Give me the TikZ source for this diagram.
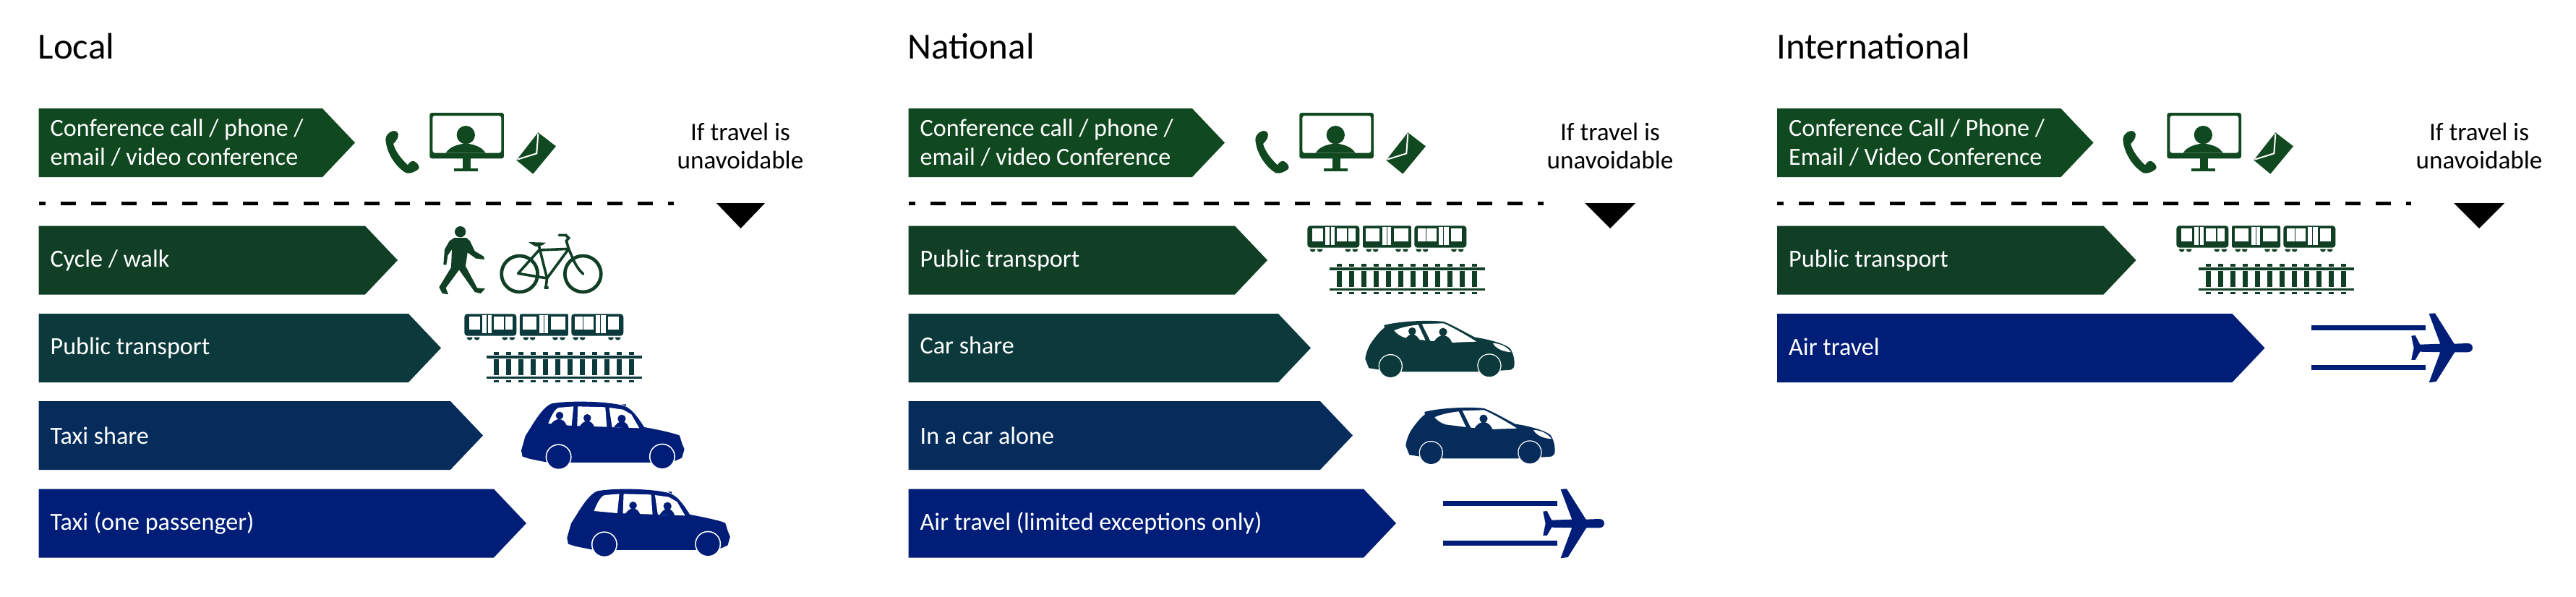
\documentclass[tikz,border=0pt]{standalone}
\usepackage{fontspec}
\setmainfont{Carlito}
\usetikzlibrary{shapes.symbols,positioning}

\definecolor{bandgreen}{HTML}{104820}
\definecolor{bandmoss}{HTML}{103F26}
\definecolor{bandteal}{HTML}{0C3A3C}
\definecolor{bandslate}{HTML}{052C5A}
\definecolor{bandnavy}{HTML}{001E78}

\tikzset{
	band/.style={signal, signal to=east, signal pointer angle=93, anchor=west, inner sep=0pt, outer sep=0pt, minimum height=0.95cm},
	bandtext/.style={text=white, inner sep=0pt, align=left, font=\fontsize{9.7}{11.24}\selectfont},
	heading/.style={anchor=base west, inner sep=0pt, font=\fontsize{14.5}{16}\selectfont},
	avoidtext/.style={inner sep=0pt, align=center, font=\fontsize{10}{11.1}\selectfont},
	dashline/.style={line width=0.45mm, dash pattern=on 2.1mm off 2.1mm, dash phase=1.2mm},
	fine/.style={x=0.03333mm, y=-0.03333mm},
	pics/contact/.style={code={
		\begin{scope}[fine]
		\fill (25,130) .. controls (25,105) and (55,85) .. (72,97) .. controls (85,108) and (75,130) .. (57,147) .. controls (65,175) and (85,205) .. (117,235) .. controls (125,222) and (135,215) .. (145,220) .. controls (160,228) and (170,245) .. (160,253) .. controls (145,265) and (125,272) .. (110,268) .. controls (70,245) and (30,190) .. (25,130) -- cycle;
		\fill[even odd rule, rounded corners=0.3mm] (208,18) rectangle (516,208) (220,30) rectangle (505,185);
		\fill (358,110) circle (38);
		\fill (275,185) .. controls (290,160) and (320,150) .. (358,145) .. controls (395,150) and (425,160) .. (440,185) -- cycle;
		\fill (345,205) rectangle (378,252);
		\fill (310,250) rectangle (408,260);
		\fill (658,100) -- (732,157) -- (637,272) -- (568,215) -- cycle;
		\draw[white, line width=0.2mm] (658,105) -- (652,187) -- (572,212);
		\end{scope}
	}},
	pics/walkbike/.style={code={
		\begin{scope}[fine]
		\fill (110,32) circle (23);
		\fill (85,57) -- (135,57) -- (150,70) -- (170,112) -- (208,135) -- (210,147) -- (175,143) -- (140,118) -- (132,175) -- (180,265) -- (213,268) -- (195,288) -- (170,282) -- (105,190) -- (50,265) -- (60,292) -- (35,288) -- (22,262) -- (72,180) -- (75,105) -- (58,130) -- (52,170) -- (40,168) -- (45,105) -- (65,70) -- cycle;
		\draw[line width=0.47mm] (356,207) circle (75) (619,207) circle (75);
		\draw[line width=0.36mm, line join=round] (435,85) -- (470,225) -- (350,205) -- (437,108) -- (560,103) -- (470,225) (470,225) -- (465,262) (458,264) -- (476,264);
		\draw[line width=0.36mm, line cap=round] (620,207) .. controls (590,180) and (580,150) .. (560,103) -- (550,70) -- (560,58) -- (548,46) -- (520,46);
		\fill (393,75) -- (465,77) .. controls (455,90) and (430,95) .. (420,92) -- cycle;
		\end{scope}
	}},
	pics/railset/.style={code={
		\begin{scope}[fine]
		\fill[rounded corners=0.4mm] (85,127) rectangle (301,218);
		\fill[rounded corners=0.2mm] (315,127) rectangle (516,218);
		\fill[rounded corners=0.4mm] (529,127) rectangle (745,218);
		\foreach \xa/\xb in {105/150, 207/250, 255/285, 328/385, 443/505, 543/575, 580/622, 680/725}
			\fill[white] (\xa,137) rectangle (\xb,193);
		\foreach \xa/\xb in {158/178, 183/198, 395/415, 418/433, 630/648, 652/672}
			\fill[white] (\xa,133) rectangle (\xb,207);
		\foreach \xw in {107, 137, 253, 283, 340, 368, 462, 492, 547, 575, 693, 722}
			\fill (\xw-12,224) arc[start angle=180, end angle=0, radius=12] -- cycle;
		\fill (177,301) rectangle (822,311);
		\fill (177,386) rectangle (822,396);
		\foreach \i in {0,...,11} {
			\fill (206+51.1*\i,316) rectangle (228+51.1*\i,380);
			\fill (206+51.1*\i,286) rectangle (228+51.1*\i,296);
			\fill (206+51.1*\i,402) rectangle (228+51.1*\i,412);
		}
		\end{scope}
	}},
	pics/taxi/.style={code={
		\begin{scope}[fine]
		\fill (483,280) -- (500,220) -- (525,180) .. controls (550,140) and (580,95) .. (610,85) .. controls (680,72) and (830,75) .. (900,92) .. controls (930,100) and (950,115) .. (993,183) .. controls (1060,195) and (1125,210) .. (1140,218) -- (1150,250) -- (1160,275) -- (1150,310) -- (1125,322) -- (1015,330) -- (690,330) -- (585,328) -- (520,315) -- (488,305) -- cycle;
		\fill (900,88) -- (918,88) -- (918,96) -- cycle;
		\fill[white] (595,168) .. controls (610,130) and (625,105) .. (640,102) -- (700,97) -- (692,177) -- cycle;
		\fill[white] (718,97) -- (832,100) -- (838,182) -- (715,178) -- cycle;
		\fill[white] (848,102) -- (905,110) -- (940,130) -- (973,187) -- (860,183) -- cycle;
		\fill (757,145) circle (16) (725,180) .. controls (735,165) and (745,158) .. (757,158) .. controls (770,158) and (780,165) .. (787,183) -- cycle;
		\fill (900,148) circle (17) (868,183) .. controls (878,168) and (888,160) .. (900,160) .. controls (915,160) and (925,170) .. (930,187) -- cycle;
		\fill[white] (638,307) circle (54) (1068,305) circle (54);
		\fill (638,307) circle (49) (1068,305) circle (49);
		\end{scope}
	}},
	pics/taxirider/.style={code={
		\begin{scope}[fine]
		\fill (642,135) circle (16) (605,172) .. controls (615,158) and (628,150) .. (640,150) .. controls (655,150) and (665,160) .. (672,177) -- cycle;
		\end{scope}
	}},
	pics/hatch/.style={code={
		\begin{scope}[fine]
		\fill (325,680) .. controls (328,650) and (345,620) .. (345,620) .. controls (365,590) and (385,565) .. (405,550) -- (403,540) .. controls (470,522) and (590,518) .. (650,525) .. controls (690,540) and (740,570) .. (780,590) .. controls (830,597) and (900,615) .. (925,635) .. controls (940,655) and (948,690) .. (942,715) -- (930,725) -- (890,728) -- (790,733) -- (480,733) -- (385,725) -- (340,718) -- cycle;
		\fill[white] (445,562) .. controls (470,550) and (510,542) .. (545,538) -- (575,603) -- (490,592) .. controls (470,585) and (455,575) .. (445,562) -- cycle;
		\fill[white] (560,535) -- (650,532) .. controls (700,555) and (750,585) .. (787,608) -- (685,612) -- (595,605) -- cycle;
		\fill (648,568) circle (17) (610,610) .. controls (620,590) and (635,582) .. (650,582) .. controls (668,585) and (678,595) .. (685,612) -- cycle;
		\fill[white] (855,615) .. controls (885,615) and (915,630) .. (930,652) .. controls (900,650) and (870,640) .. (855,615) -- cycle;
		\fill[white] (430,710) circle (50) (840,708) circle (50);
		\fill (430,710) circle (46) (840,708) circle (46);
		\end{scope}
	}},
	pics/hatchrider/.style={code={
		\begin{scope}[fine]
		\fill (520,565) circle (16) (490,602) .. controls (498,585) and (510,577) .. (522,577) .. controls (535,580) and (545,590) .. (552,604) -- cycle;
		\end{scope}
	}},
	pics/flight/.style={code={
		\begin{scope}[x=0.01cm, y=-0.01cm]
		\fill (0,17) rectangle (158,24.3);
		\fill (0,72) rectangle (158,79.3);
		\fill (162.7,1) -- (171,0.3) -- (197.7,42.7) -- (216,42) .. controls (221,42) and (223,45) .. (223,48.3) .. controls (223,52) and (220,54.3) .. (216,54.3) -- (198.3,54.3) -- (172.7,95) -- (162.7,96.3) -- (178.3,54.3) -- (150.3,53.7) -- (143.7,65) -- (138.3,65) -- (141.7,48.3) -- (138.3,31.7) -- (143.7,31) -- (150.3,43.7) -- (178.3,42.7) -- cycle;
		\end{scope}
	}},
}

\begin{document}
\begin{tikzpicture}
	\useasboundingbox (0cm,0cm) rectangle (35.63cm,-8.25cm);
	% local
	\node [heading] (localhead) at (0.52cm,-0.81cm) {Local};
	\node [band, fill=bandgreen, minimum width=4.375cm] (localmeet) at (0.535cm,-1.975cm) {};
	\node [band, fill=bandmoss, minimum width=4.965cm] (localcycle) at (0.535cm,-3.60cm) {};
	\node [band, fill=bandteal, minimum width=5.565cm] (localpublic) at (0.535cm,-4.815cm) {};
	\node [band, fill=bandslate, minimum width=6.145cm] (localshare) at (0.535cm,-6.025cm) {};
	\node [band, fill=bandnavy, minimum width=6.745cm] (localtaxi) at (0.535cm,-7.24cm) {};
	\node [bandtext, right=0.155cm of localmeet.west] (localmeettext) {Conference call / phone /\\email / video conference};
	\node [bandtext, right=0.155cm of localcycle.west] (localcycletext) {Cycle / walk};
	\node [bandtext, right=0.155cm of localpublic.west] (localpublictext) {Public transport};
	\node [bandtext, right=0.155cm of localshare.west] (localsharetext) {Taxi share};
	\node [bandtext, right=0.155cm of localtaxi.west] (localtaxitext) {Taxi (one passenger)};
	\node [avoidtext] (localavoid) at (10.24cm,-2.02cm) {If travel is\\unavoidable};
	\coordinate (localdash1) at (0.535cm,-2.815cm);
	\coordinate (localdash2) at (9.32cm,-2.815cm);
	\draw [dashline] (localdash1) -- (localdash2);
	\fill (9.91cm,-2.81cm) -- (10.58cm,-2.81cm) -- (10.245cm,-3.16cm) -- cycle;
	\pic [color=bandgreen] (localcontact) at (5.25cm,-1.50cm) {contact};
	\pic [color=bandmoss] (localwalk) at (6.00cm,-3.10cm) {walkbike};
	\pic [color=bandteal] (localrail) at (6.14cm,-3.92cm) {railset};
	\pic [color=bandnavy] (localcab) at (5.60cm,-5.30cm) {taxi};
	\pic [color=bandnavy] (localcabrider) at (5.60cm,-5.30cm) {taxirider};
	\pic [color=bandnavy] (localcabone) at (6.233cm,-6.51cm) {taxi};
	% national
	\node [heading] (nathead) at (12.55cm,-0.81cm) {National};
	\node [band, fill=bandgreen, minimum width=4.375cm] (natmeet) at (12.565cm,-1.975cm) {};
	\node [band, fill=bandmoss, minimum width=4.965cm] (natpublic) at (12.565cm,-3.60cm) {};
	\node [band, fill=bandteal, minimum width=5.565cm] (natshare) at (12.565cm,-4.815cm) {};
	\node [band, fill=bandslate, minimum width=6.145cm] (natalone) at (12.565cm,-6.025cm) {};
	\node [band, fill=bandnavy, minimum width=6.745cm] (natair) at (12.565cm,-7.24cm) {};
	\node [bandtext, right=0.155cm of natmeet.west] (natmeettext) {Conference call / phone /\\email / video Conference};
	\node [bandtext, right=0.155cm of natpublic.west] (natpublictext) {Public transport};
	\node [bandtext, right=0.155cm of natshare.west, yshift=0.04cm] (natsharetext) {Car share};
	\node [bandtext, right=0.155cm of natalone.west] (natalonetext) {In a car alone};
	\node [bandtext, right=0.155cm of natair.west] (natairtext) {Air travel (limited exceptions only)};
	\node [avoidtext] (natavoid) at (22.27cm,-2.02cm) {If travel is\\unavoidable};
	\coordinate (natdash1) at (12.565cm,-2.815cm);
	\coordinate (natdash2) at (21.345cm,-2.815cm);
	\draw [dashline] (natdash1) -- (natdash2);
	\fill (21.92cm,-2.81cm) -- (22.62cm,-2.81cm) -- (22.27cm,-3.16cm) -- cycle;
	\pic [color=bandgreen] (natcontact) at (17.28cm,-1.50cm) {contact};
	\pic [color=bandmoss] (natrail) at (17.80cm,-2.70cm) {railset};
	\pic [color=bandteal] (natcar) at (17.80cm,-2.70cm) {hatch};
	\pic [color=bandteal] (natcarrider) at (17.80cm,-2.70cm) {hatchrider};
	\pic [color=bandslate] (natcaralone) at (18.36cm,-3.90cm) {hatch};
	\pic [color=bandnavy] (natplane) at (19.96cm,-6.76cm) {flight};
	% international
	\node [heading] (inthead) at (24.565cm,-0.81cm) {International};
	\node [band, fill=bandgreen, minimum width=4.375cm] (intmeet) at (24.58cm,-1.975cm) {};
	\node [band, fill=bandmoss, minimum width=4.965cm] (intpublic) at (24.58cm,-3.60cm) {};
	\node [band, fill=bandnavy, minimum width=6.745cm] (intair) at (24.58cm,-4.815cm) {};
	\node [bandtext, right=0.155cm of intmeet.west] (intmeettext) {Conference Call / Phone /\\Email / Video Conference};
	\node [bandtext, right=0.155cm of intpublic.west] (intpublictext) {Public transport};
	\node [bandtext, right=0.155cm of intair.west, yshift=0.02cm] (intairtext) {Air travel};
	\node [avoidtext] (intavoid) at (34.29cm,-2.02cm) {If travel is\\unavoidable};
	\coordinate (intdash1) at (24.58cm,-2.815cm);
	\coordinate (intdash2) at (33.35cm,-2.815cm);
	\draw [dashline] (intdash1) -- (intdash2);
	\fill (33.94cm,-2.81cm) -- (34.64cm,-2.81cm) -- (34.29cm,-3.16cm) -- cycle;
	\pic [color=bandgreen] (intcontact) at (29.28cm,-1.50cm) {contact};
	\pic [color=bandmoss] (intrail) at (29.82cm,-2.70cm) {railset};
	\pic [color=bandnavy] (intplane) at (31.97cm,-4.33cm) {flight};
\end{tikzpicture}
\end{document}
